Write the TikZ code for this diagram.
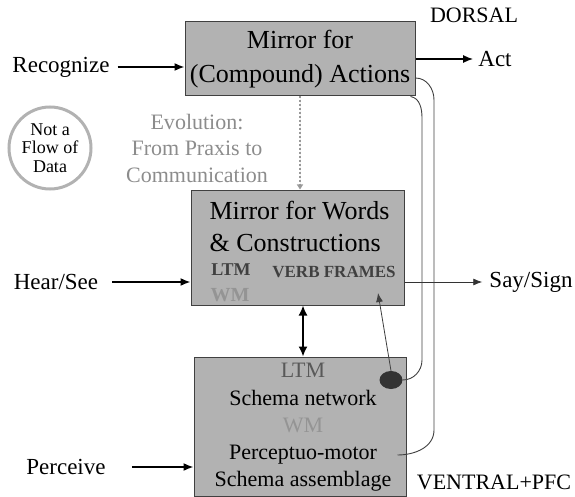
\documentclass[tikz,border=0pt]{standalone}
\usepackage{fontspec}
\setmainfont{Liberation Serif}
\usetikzlibrary{shapes.geometric,arrows.meta}

\begin{document}
\begin{tikzpicture}[x=1pt, y=-1pt,
    box/.style = {draw=black!75, fill=black!30, line width=1pt, inner sep=0pt},
    lbl/.style = {inner sep=0pt, font=\fontsize{23}{27}\selectfont},
    flow/.style = {-{Latex[length=10pt,width=8pt]}, line width=1.6pt},
    thinflow/.style = {-{Latex[length=9pt,width=7pt]}, line width=0.8pt},
    wire/.style = {line width=0.9pt, draw=black!75}]
        \useasboundingbox (0,0) rectangle (575,497);
        % boxes
        \node[box, minimum width=230pt, minimum height=74pt, align=center, font=\fontsize{26}{34}\selectfont] (mirror) at (300,59) {Mirror for\\(Compound) Actions};
        \node[box, minimum width=213pt, minimum height=115pt] (words) at (297.5,247.5) {};
        \node[box, minimum width=212pt, minimum height=139pt] (schema) at (300,426.5) {};
        \node[inner sep=0pt, align=left, font=\fontsize{26}{32}\selectfont] (wordstitle) at (299.5,226) {Mirror for Words\\\& Constructions};
        \node[inner sep=0pt, text=black!75, font=\fontsize{18}{20}\bfseries\selectfont] (ltm) at (231,270) {LTM};
        \node[inner sep=0pt, text=black!75, font=\fontsize{17}{20}\bfseries\selectfont] (verbframes) at (334,272) {VERB FRAMES};
        \node[inner sep=0pt, text=black!42, font=\fontsize{20}{22}\bfseries\selectfont] (wm) at (230,295) {WM};
        \node[inner sep=0pt, align=center, font=\fontsize{22}{27.2}\selectfont] (schematext) at (303,427.5) {\textcolor{black!65}{LTM}\\Schema network\\\textcolor{black!42}{WM}\\Perceptuo-motor\\Schema assemblage};
        \node[ellipse, fill=black!80, minimum width=23pt, minimum height=18pt, inner sep=0pt] (blob) at (391,380) {};
        % labels
        \node[lbl] (recognize) at (61,67) {Recognize};
        \node[lbl] (hearsee) at (56,282) {Hear/See};
        \node[lbl] (perceive) at (66,467) {Perceive};
        \node[lbl] (act) at (495,59) {Act};
        \node[lbl] (saysign) at (531,282) {Say/Sign};
        \node[lbl, font=\fontsize{22}{26}\selectfont] (dorsal) at (474,15) {DORSAL};
        \node[lbl, font=\fontsize{22}{26}\selectfont] (ventral) at (494,482) {VENTRAL+PFC};
        \node[circle, draw=black!30, line width=3pt, minimum size=82pt, inner sep=0pt, align=center, font=\fontsize{18}{18.5}\selectfont] (notflow) at (50,148) {Not a\\Flow of\\Data};
        \node[inner sep=0pt, align=center, text=black!45, font=\fontsize{22}{26.5}\selectfont] (evolution) at (197,148) {Evolution:\\From Praxis to\\Communication};
        \coordinate (vfend) at (378,293);
        % arrows
        \draw[flow, shorten <=8pt] (recognize.east) -- ([yshift=-8pt]mirror.west);
        \draw[flow, shorten <=14pt] (hearsee.east) -- (hearsee.east -| words.west);
        \draw[flow, shorten <=26pt] (perceive.east) -- (perceive.east -| schema.west);
        \draw[flow, shorten >=5pt] (mirror.east) -- (act.west);
        \draw[thinflow, draw=black!80, shorten >=7pt] (saysign.west -| words.east) -- (saysign.west);
        \draw[-{Triangle[length=5pt,width=6pt]}, draw=black!40, fill=black!40, line width=2pt, dash pattern=on 2pt off 2pt] (mirror.south) -- (mirror.south |- words.north);
        \draw[{Latex[length=10pt,width=9pt]}-{Latex[length=10pt,width=9pt]}, line width=1.6pt] ([xshift=5.5pt]words.south) -- ([xshift=3pt]schema.north);
        \draw[thinflow, draw=black!75] (blob.north) -- (vfend);
        \draw[wire] ([yshift=-19pt]mirror.east) to[out=0,in=90] (434,100) -- (434,430) to[out=-90,in=0] ([xshift=-9pt,yshift=-28.5pt]schema.east);
        \draw[wire] ([xshift=-5pt]mirror.south east) to[out=-10,in=90] (422,118) -- (422,360) to[out=-90,in=0] (blob.east);
    \end{tikzpicture}
\end{document}
